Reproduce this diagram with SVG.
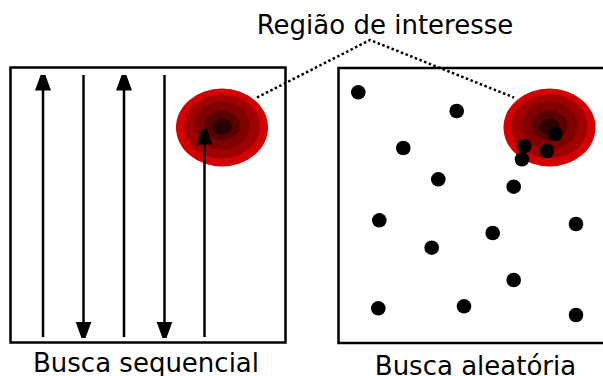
<svg xmlns="http://www.w3.org/2000/svg" width="603" height="376" viewBox="0 0 603 376">
<defs>
<style>
.box{fill:none;stroke:#000;stroke-width:2.5}
.arr{stroke:#000;stroke-width:2.5;fill:none}
.dot{fill:#000}
.lbl{font-family:"DejaVu Sans",sans-serif;font-size:26px;fill:#000;text-anchor:middle}
.link{fill:none;stroke:#000;stroke-width:2.5;stroke-dasharray:2.5,2.5}
</style>
<marker id="ah" markerWidth="16" markerHeight="22" refX="15.5" refY="8" orient="auto" markerUnits="userSpaceOnUse" viewBox="0 0 16 16">
<path d="M0,0 L22,8 L0,16 Z" fill="#000"/>
</marker>
<g id="hot">
<ellipse cx="0" cy="0" rx="46" ry="39" fill="#d40000"/>
<ellipse cx="0" cy="-1" rx="38" ry="32" fill="#a00000"/>
<ellipse cx="0" cy="-2" rx="28" ry="24" fill="#800000"/>
<ellipse cx="0" cy="-2" rx="18" ry="15" fill="#5a0000"/>
<ellipse cx="0" cy="-1" rx="10" ry="8" fill="#2b0000"/>
</g>
</defs>
<rect width="603" height="376" fill="#fff"/>
<g id="seq">
<rect class="box" x="10.5" y="67.5" width="275" height="275"/>
<use href="#hot" x="222" y="127.5"/>
</g>
<g id="rand">
<rect class="box" x="338.5" y="68" width="280" height="275"/>
<use href="#hot" x="549.5" y="127.5"/>
<circle class="dot" cx="358.3" cy="92.3" r="7.3"/>
<circle class="dot" cx="456.7" cy="111" r="7.3"/>
<circle class="dot" cx="403.3" cy="148" r="7.3"/>
<circle class="dot" cx="438.3" cy="179.3" r="7.3"/>
<circle class="dot" cx="513.7" cy="186.7" r="7.3"/>
<circle class="dot" cx="379.3" cy="220.3" r="7.3"/>
<circle class="dot" cx="492.7" cy="233" r="7.3"/>
<circle class="dot" cx="431.7" cy="247.7" r="7.3"/>
<circle class="dot" cx="576" cy="224" r="7.3"/>
<circle class="dot" cx="513.7" cy="280" r="7.3"/>
<circle class="dot" cx="378.3" cy="308.3" r="7.3"/>
<circle class="dot" cx="464" cy="306.3" r="7.3"/>
<circle class="dot" cx="576" cy="315" r="7.3"/>
<circle class="dot" cx="555.3" cy="134" r="7.3"/>
<circle class="dot" cx="524.3" cy="146.3" r="7.3"/>
<circle class="dot" cx="547" cy="151" r="7.3"/>
<circle class="dot" cx="522" cy="159.3" r="7.3"/>
</g>
<g id="connectors">
<line class="arr" x1="43" y1="337" x2="43" y2="75" marker-end="url(#ah)"/>
<line class="arr" x1="83.5" y1="75" x2="83.5" y2="337" marker-end="url(#ah)"/>
<line class="arr" x1="124" y1="337" x2="124" y2="75" marker-end="url(#ah)"/>
<line class="arr" x1="164.5" y1="75" x2="164.5" y2="337" marker-end="url(#ah)"/>
<line class="arr" x1="204.5" y1="337" x2="204.5" y2="129" marker-end="url(#ah)"/>
<polyline class="link" points="257,97.5 370,40 514,97.5"/>
</g>
<g id="labels">
<text class="lbl" x="385" y="34">Região de interesse</text>
<text class="lbl" x="146" y="371.5">Busca sequencial</text>
<text class="lbl" x="475.5" y="374.5">Busca aleatória</text>
</g>
</svg>
